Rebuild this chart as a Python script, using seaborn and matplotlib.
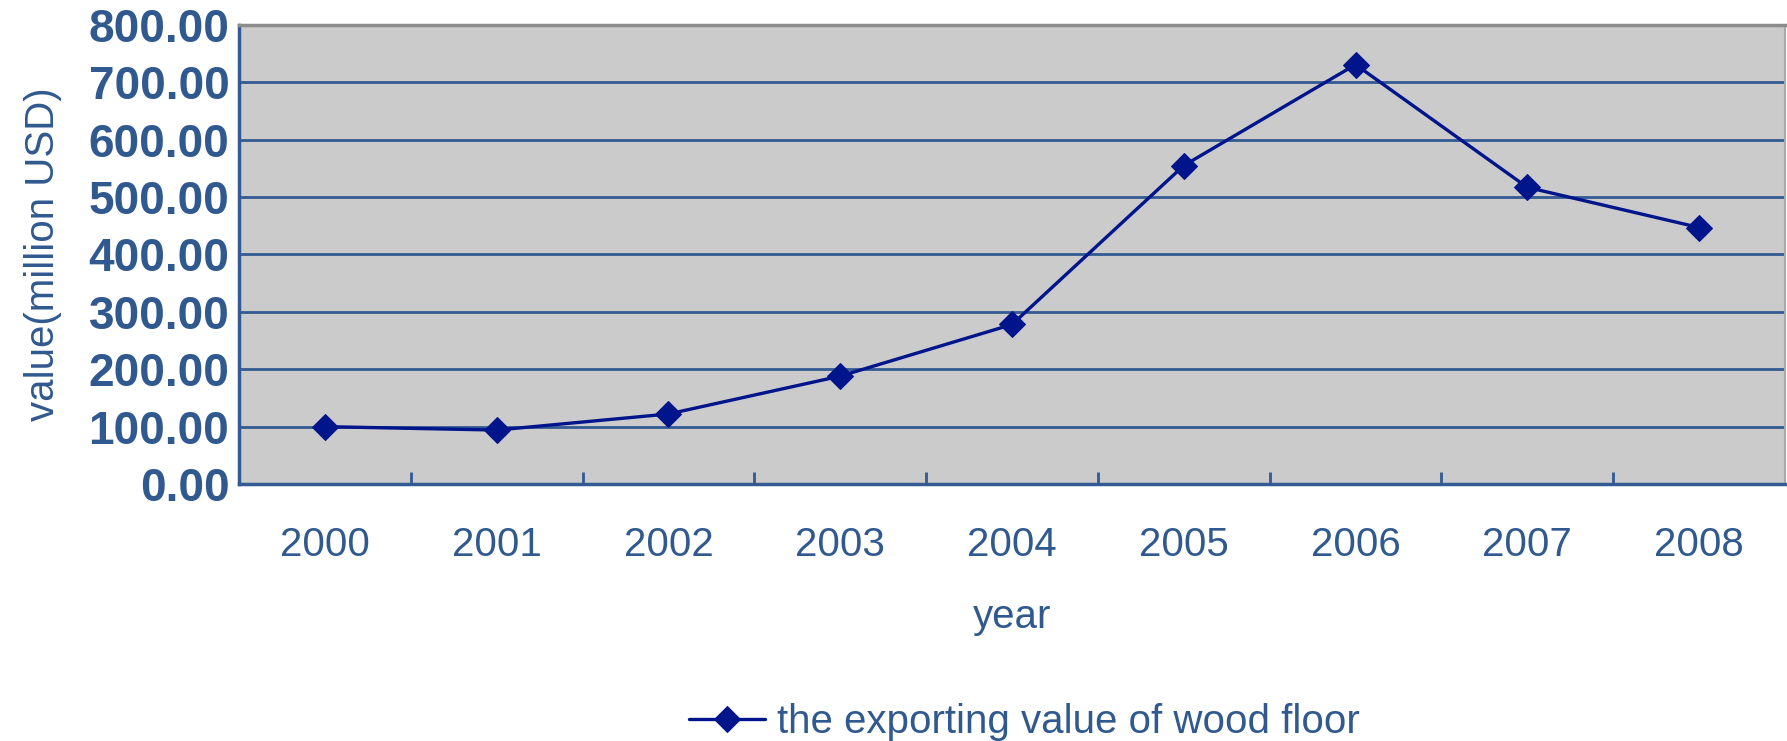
import matplotlib
matplotlib.use("Agg")
import matplotlib.pyplot as plt
import seaborn as sns
import pandas as pd

years = ["2000", "2001", "2002", "2003", "2004", "2005", "2006", "2007", "2008"]
values = [100, 94, 122, 188, 278, 555, 731, 517, 447]
series_name = "the exporting value of wood floor"
y_ticks = [0, 100, 200, 300, 400, 500, 600, 700, 800]

TEXT = "#30598F"
GRID = "#335A92"
LINE = "#00148C"
BG = "#CBCBCB"

sns.set_theme(style="white")
plt.rcParams['font.family'] = ['Liberation Sans', 'DejaVu Sans']

df = pd.DataFrame({"year": years, "value": values})

fig = plt.figure(figsize=(17.87, 7.41), dpi=100)
ax = fig.add_axes([239/1787, 1 - 484/741, (1785-239)/1787, (484-25)/741])
ax.set_facecolor(BG)

sns.lineplot(data=df, x="year", y="value", ax=ax, color=LINE, linewidth=2.4,
             marker="D", markersize=13, markeredgecolor=LINE, markerfacecolor=LINE,
             label=series_name, legend=False)

ax.set_xlim(-0.5, len(years) - 0.5)
ax.set_ylim(0, 800)
ax.set_yticks(y_ticks)
ax.set_yticklabels([f"{v:.2f}" for v in y_ticks], fontsize=33, fontweight="bold", color=TEXT)
ax.yaxis.grid(True, color=GRID, linewidth=2)
ax.xaxis.grid(False)
ax.set_axisbelow(True)

ax.set_xticks(range(len(years)))
ax.set_xticklabels(years, fontsize=29, color=TEXT)
ax.tick_params(axis="x", length=0, pad=30)
ax.tick_params(axis="y", length=0, pad=7)
ax.set_xticks([i + 0.5 for i in range(len(years) - 1)], minor=True)
ax.tick_params(axis="x", which="minor", direction="in", length=9, width=2, color=GRID, bottom=True)

for side in ["left", "bottom"]:
    ax.spines[side].set_color(GRID)
    ax.spines[side].set_linewidth(2.5)
ax.spines["top"].set_color("#8C8C8C")
ax.spines["top"].set_linewidth(2.5)
ax.spines["right"].set_color("#A8A8A8")
ax.spines["right"].set_linewidth(1.5)

ax.set_xlabel("year", fontsize=29, color=TEXT, labelpad=25)
ax.set_ylabel("value(million USD)", fontsize=29, color=TEXT, fontweight="medium")
ax.yaxis.set_label_coords(-0.1145, 0.5)

handles, labels = ax.get_legend_handles_labels()
leg = ax.legend(handles, labels, loc="center", bbox_to_anchor=(0.508, -0.518),
                frameon=False, fontsize=29, handlelength=1.9, handletextpad=0.3)
for t in leg.get_texts():
    t.set_color(TEXT)

fig.savefig("out.png", dpi=100, facecolor="white")
